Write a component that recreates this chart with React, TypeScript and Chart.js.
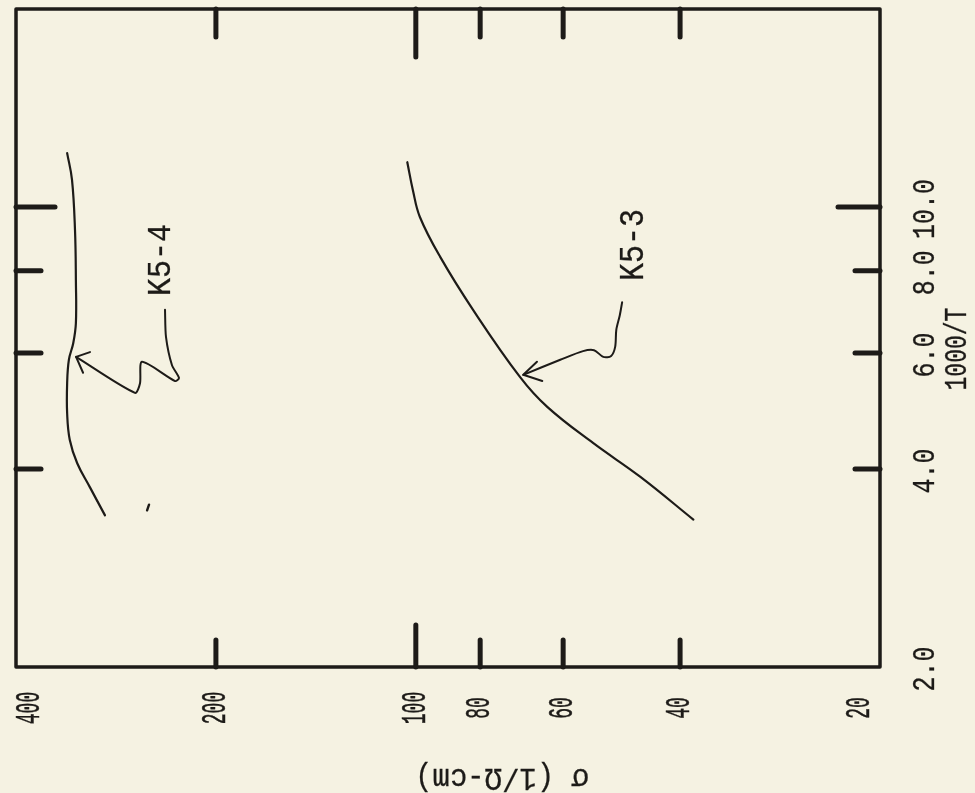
import React, { useEffect, useRef } from "react";
import { Chart, registerables } from "chart.js";

Chart.register(...registerables);

// ---- axis ticks / labels ----
const SIGMA_LABELS = [400, 200, 100, 80, 60, 40, 20];
const SIGMA_INNER_TICKS = [200, 100, 80, 60, 40];
const SIGMA_LONG_TICKS = [100];
const T_LABELS = [2, 4, 6, 8, 10];
const T_INNER_TICKS = [4, 6, 8, 10];
const T_LONG_TICKS = [10];
const X_TITLE = "σ (1/Ω-cm)";
const Y_TITLE = "1000/T";

// ---- series (sigma, 1000/T) ----
const K53_SIGMA = [103, 101, 98.6, 91.9, 82.0, 69.7, 63.4, 54.1, 45.9, 38.2];
const K53_T = [11.7, 10.6, 9.66, 8.4, 6.98, 5.52, 4.97, 4.38, 3.89, 3.35];

const K54_SIGMA = [335, 329.4, 326, 325, 325, 328, 333, 335, 335, 332, 323.5, 309.5, 293.8];
const K54_T = [12.08, 11.0, 9.23, 7.75, 6.66, 6.21, 5.86, 5.4, 4.86, 4.43, 4.08, 3.75, 3.4];

// stray mark near the end of K5-4
const STRAY_SIGMA = [253.9, 252.2];
const STRAY_T = [3.46, 3.53];

// ---- annotation leaders (sigma, 1000/T) ----
const K53_LEADER_SIGMA = [48.9, 49.3, 49.9, 50.1, 50.8, 52.2, 53.9, 56.0, 60.6, 68.9];
const K53_LEADER_T = [7.17, 6.85, 6.51, 6.13, 5.94, 5.92, 6.06, 6.04, 5.86, 5.56];
const K53_HEAD_SIGMA = [65.7, 68.9, 64.5];
const K53_HEAD_T = [5.82, 5.56, 5.44];

const K54_LEADER_SIGMA = [238.6, 237.8, 232.9, 227.3, 230.4, 258.4, 260.2, 264.8, 324.8];
const K54_LEADER_T = [6.98, 6.35, 5.75, 5.5, 5.44, 5.82, 5.4, 5.22, 5.92];
const K54_HEAD_SIGMA = [309.5, 324.8, 317.0];
const K54_HEAD_T = [6.02, 5.92, 5.6];

const K53_NAME = "K5-3";
const K53_NAME_AT = { x: 46.9, y: 8.76 };
const K54_NAME = "K5-4";
const K54_NAME_AT = { x: 241.8, y: 8.31 };

const INK = "#1d1b18";
const BG = "#f5f2e2";
const FONT = '"Liberation Mono", "DejaVu Sans Mono", monospace';

const pts = (xs: number[], ys: number[]) => xs.map((x, i) => ({ x, y: ys[i] }));

function drawText(
  ctx: CanvasRenderingContext2D,
  text: string,
  x: number,
  y: number,
  angle: number,
  size: number,
  stretch: number
) {
  ctx.save();
  ctx.translate(x, y);
  ctx.rotate(angle);
  ctx.scale(1, stretch);
  ctx.font = `${size}px ${FONT}`;
  ctx.fillStyle = INK;
  ctx.strokeStyle = INK;
  ctx.lineWidth = 0.25;
  ctx.textAlign = "center";
  ctx.textBaseline = "middle";
  ctx.fillText(text, 0, 0);
  ctx.strokeText(text, 0, 0);
  ctx.restore();
}

const paperPlugin = {
  id: "paper",
  beforeDraw(chart: any) {
    const { ctx, width, height } = chart;
    ctx.save();
    ctx.fillStyle = BG;
    ctx.fillRect(0, 0, width, height);
    ctx.restore();
  },
  afterDatasetsDraw(chart: any) {
    const { ctx, chartArea: a, scales } = chart;
    const xs = scales.x;
    const ys = scales.y;
    const seg = (x1: number, y1: number, x2: number, y2: number) => {
      ctx.beginPath();
      ctx.moveTo(x1, y1);
      ctx.lineTo(x2, y2);
      ctx.stroke();
    };
    ctx.save();
    ctx.strokeStyle = INK;
    ctx.lineJoin = "round";
    ctx.lineWidth = 3.5;
    ctx.strokeRect(a.left, a.top, a.right - a.left, a.bottom - a.top);

    ctx.lineCap = "round";
    ctx.lineWidth = 5;
    for (const v of SIGMA_INNER_TICKS) {
      const px = xs.getPixelForValue(v);
      const long = SIGMA_LONG_TICKS.includes(v);
      seg(px, a.top, px, a.top + (long ? 48 : 28));
      seg(px, a.bottom, px, a.bottom - (long ? 42 : 27));
    }
    for (const v of T_INNER_TICKS) {
      const py = ys.getPixelForValue(v);
      const long = T_LONG_TICKS.includes(v);
      seg(a.left, py, a.left + (long ? 39 : 25), py);
      seg(a.right, py, a.right - (long ? 42 : 25), py);
    }
    ctx.restore();

    const up = -Math.PI / 2;
    // sigma tick labels
    for (const v of SIGMA_LABELS) {
      let px = xs.getPixelForValue(v);
      px = Math.min(Math.max(px, a.left + 14), a.right - 20);
      drawText(ctx, String(v), px, a.bottom + 41, up, 18, 1.9);
    }
    // 1000/T tick labels
    for (const v of T_LABELS) {
      const py = ys.getPixelForValue(v);
      drawText(ctx, v.toFixed(1), a.right + 46, py + 2, up, 25, 1.25);
    }
    // axis titles
    drawText(ctx, Y_TITLE, a.right + 77, ys.getPixelForValue(6) - 4, up, 23, 1.4);
    drawText(ctx, X_TITLE, (a.left + a.right) / 2 + 54, a.bottom + 110, Math.PI, 29, 1.05);

    // curve names
    drawText(ctx, K53_NAME, xs.getPixelForValue(K53_NAME_AT.x), ys.getPixelForValue(K53_NAME_AT.y), up, 30, 1.15);
    drawText(ctx, K54_NAME, xs.getPixelForValue(K54_NAME_AT.x), ys.getPixelForValue(K54_NAME_AT.y), up, 30, 1.1);
  },
};

const lineDs = (data: { x: number; y: number }[], width: number, tension: number) => ({
  data,
  borderColor: INK,
  borderWidth: width,
  tension,
  fill: false,
  pointRadius: 0,
  borderCapStyle: "round" as const,
  borderJoinStyle: "round" as const,
});

export default function App() {
  const ref = useRef<HTMLCanvasElement | null>(null);

  useEffect(() => {
    document.body.style.margin = "0";
    document.body.style.background = BG;
    const canvas = ref.current;
    if (!canvas) return;
    const chart = new Chart(canvas, {
      type: "line",
      data: {
        datasets: [
          lineDs(pts(K53_SIGMA, K53_T), 2.2, 0.4),
          lineDs(pts(K54_SIGMA, K54_T), 2.2, 0.4),
          lineDs(pts(STRAY_SIGMA, STRAY_T), 2.4, 0),
          lineDs(pts(K53_LEADER_SIGMA, K53_LEADER_T), 2, 0.3),
          lineDs(pts(K53_HEAD_SIGMA, K53_HEAD_T), 2, 0),
          lineDs(pts(K54_LEADER_SIGMA, K54_LEADER_T), 2, 0.25),
          lineDs(pts(K54_HEAD_SIGMA, K54_HEAD_T), 2, 0),
        ] as any,
      },
      options: {
        responsive: false,
        animation: false,
        devicePixelRatio: 1,
        layout: { padding: { left: 16, top: 9, right: 95, bottom: 126 } },
        plugins: {
          legend: { display: false },
          tooltip: { enabled: false },
          title: { display: false },
        },
        scales: {
          x: { type: "logarithmic", min: 20, max: 400, reverse: true, display: false },
          y: { type: "logarithmic", min: 2, max: 20, display: false },
        },
        elements: { point: { radius: 0 } },
      } as any,
      plugins: [paperPlugin],
    });
    return () => chart.destroy();
  }, []);

  return (
    <div style={{ position: "fixed", left: 0, top: 0, width: 975, height: 793, background: BG }}>
      <canvas ref={ref} width={975} height={793} style={{ display: "block" }} />
    </div>
  );
}
